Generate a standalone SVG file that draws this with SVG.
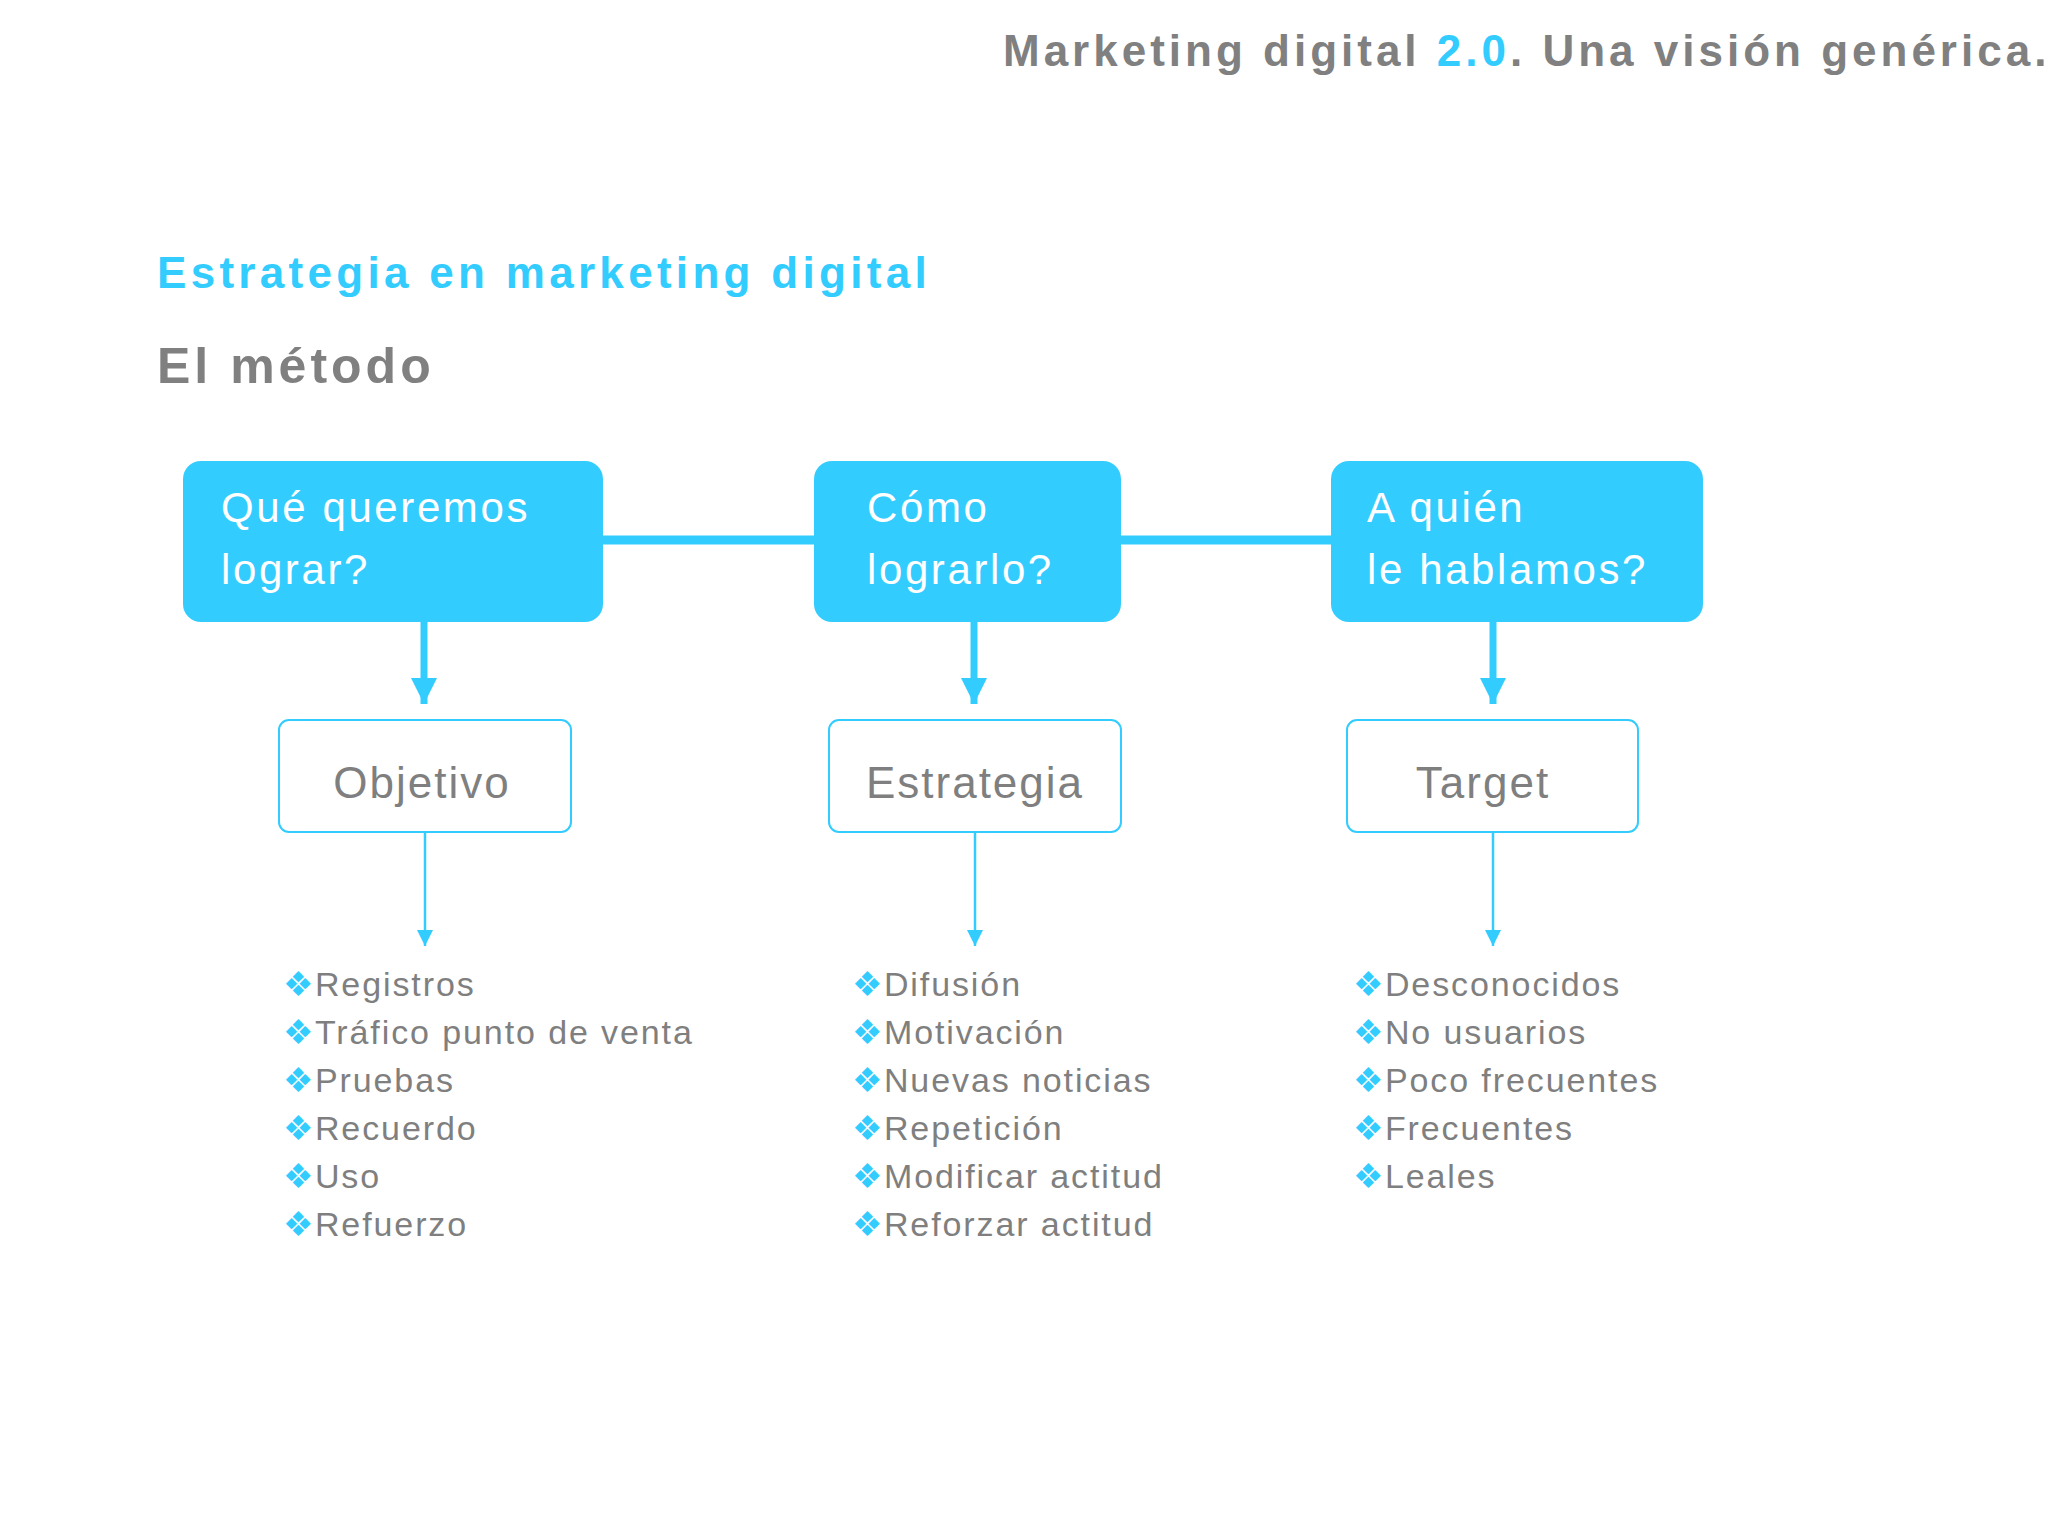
<svg xmlns="http://www.w3.org/2000/svg" width="2048" height="1537" viewBox="0 0 2048 1537">
<defs>
<style>
text{font-family:"Liberation Sans","Noto Sans",sans-serif}
.h{font-weight:bold;fill:#808080}
.q{fill:#fff;font-size:42px;letter-spacing:2.6px}
.lab{fill:#7f7f7f;font-size:44px;letter-spacing:2px}
.li{fill:#7f7f7f;font-size:34px;letter-spacing:1.9px}
.b{fill:#33ccff}
.fill{fill:#33ccff}
.out{fill:#fff;stroke:#33ccff;stroke-width:2}
</style>
<marker id="a2" viewBox="0 0 10 10" refX="10" refY="5" markerWidth="16" markerHeight="16" markerUnits="userSpaceOnUse" orient="auto"><path d="M0,0 L10,5 L0,10 Z" fill="#33ccff"/></marker>
<marker id="a3" viewBox="0 0 10 10" refX="10" refY="5" markerWidth="26" markerHeight="26" markerUnits="userSpaceOnUse" orient="auto"><path d="M0,0 L10,5 L0,10 Z" fill="#33ccff"/></marker>
</defs>
<rect width="2048" height="1537" fill="#fff"/>
<text x="1003" y="66" class="h" font-size="44" letter-spacing="4">Marketing digital <tspan fill="#33ccff">2.0</tspan>. Una visión genérica.</text>
<text x="157" y="288" font-size="44" font-weight="bold" fill="#33ccff" letter-spacing="4.3">Estrategia en marketing digital</text>
<text x="157" y="383" class="h" font-size="50" letter-spacing="4">El método</text>
<g id="connectors" stroke="#33ccff" fill="none">
<line x1="603" y1="540" x2="814" y2="540" stroke-width="9"/>
<line x1="1121" y1="540" x2="1331" y2="540" stroke-width="9"/>
<line x1="424" y1="622" x2="424" y2="704" stroke-width="7" marker-end="url(#a3)"/>
<line x1="974" y1="622" x2="974" y2="704" stroke-width="7" marker-end="url(#a3)"/>
<line x1="1493" y1="622" x2="1493" y2="704" stroke-width="7" marker-end="url(#a3)"/>
<line x1="425" y1="832" x2="425" y2="946" stroke-width="2.5" marker-end="url(#a2)"/>
<line x1="975" y1="832" x2="975" y2="946" stroke-width="2.5" marker-end="url(#a2)"/>
<line x1="1493" y1="832" x2="1493" y2="946" stroke-width="2.5" marker-end="url(#a2)"/>
</g>
<g id="q1"><rect x="183" y="461" width="420" height="161" rx="18" class="fill"/><text class="q" x="221" y="522">Qué queremos</text><text class="q" x="221" y="584">lograr?</text></g>
<g id="q2"><rect x="814" y="461" width="307" height="161" rx="18" class="fill"/><text class="q" x="867" y="522">Cómo</text><text class="q" x="867" y="584">lograrlo?</text></g>
<g id="q3"><rect x="1331" y="461" width="372" height="161" rx="18" class="fill"/><text class="q" x="1367" y="522">A quién</text><text class="q" x="1367" y="584">le hablamos?</text></g>
<g id="n1"><rect x="279" y="720" width="292" height="112" rx="10" class="out"/><text class="lab" x="422" y="798" text-anchor="middle">Objetivo</text></g>
<g id="n2"><rect x="829" y="720" width="292" height="112" rx="10" class="out"/><text class="lab" x="975" y="798" text-anchor="middle">Estrategia</text></g>
<g id="n3"><rect x="1347" y="720" width="291" height="112" rx="10" class="out"/><text class="lab" x="1483" y="798" text-anchor="middle">Target</text></g>
<g id="l1" class="li">
<text x="283" y="996"><tspan class="b">❖</tspan>Registros</text>
<text x="283" y="1044"><tspan class="b">❖</tspan>Tráfico punto de venta</text>
<text x="283" y="1092"><tspan class="b">❖</tspan>Pruebas</text>
<text x="283" y="1140"><tspan class="b">❖</tspan>Recuerdo</text>
<text x="283" y="1188"><tspan class="b">❖</tspan>Uso</text>
<text x="283" y="1236"><tspan class="b">❖</tspan>Refuerzo</text>
</g>
<g id="l2" class="li">
<text x="852" y="996"><tspan class="b">❖</tspan>Difusión</text>
<text x="852" y="1044"><tspan class="b">❖</tspan>Motivación</text>
<text x="852" y="1092"><tspan class="b">❖</tspan>Nuevas noticias</text>
<text x="852" y="1140"><tspan class="b">❖</tspan>Repetición</text>
<text x="852" y="1188"><tspan class="b">❖</tspan>Modificar actitud</text>
<text x="852" y="1236"><tspan class="b">❖</tspan>Reforzar actitud</text>
</g>
<g id="l3" class="li">
<text x="1353" y="996"><tspan class="b">❖</tspan>Desconocidos</text>
<text x="1353" y="1044"><tspan class="b">❖</tspan>No usuarios</text>
<text x="1353" y="1092"><tspan class="b">❖</tspan>Poco frecuentes</text>
<text x="1353" y="1140"><tspan class="b">❖</tspan>Frecuentes</text>
<text x="1353" y="1188"><tspan class="b">❖</tspan>Leales</text>
</g>
</svg>
